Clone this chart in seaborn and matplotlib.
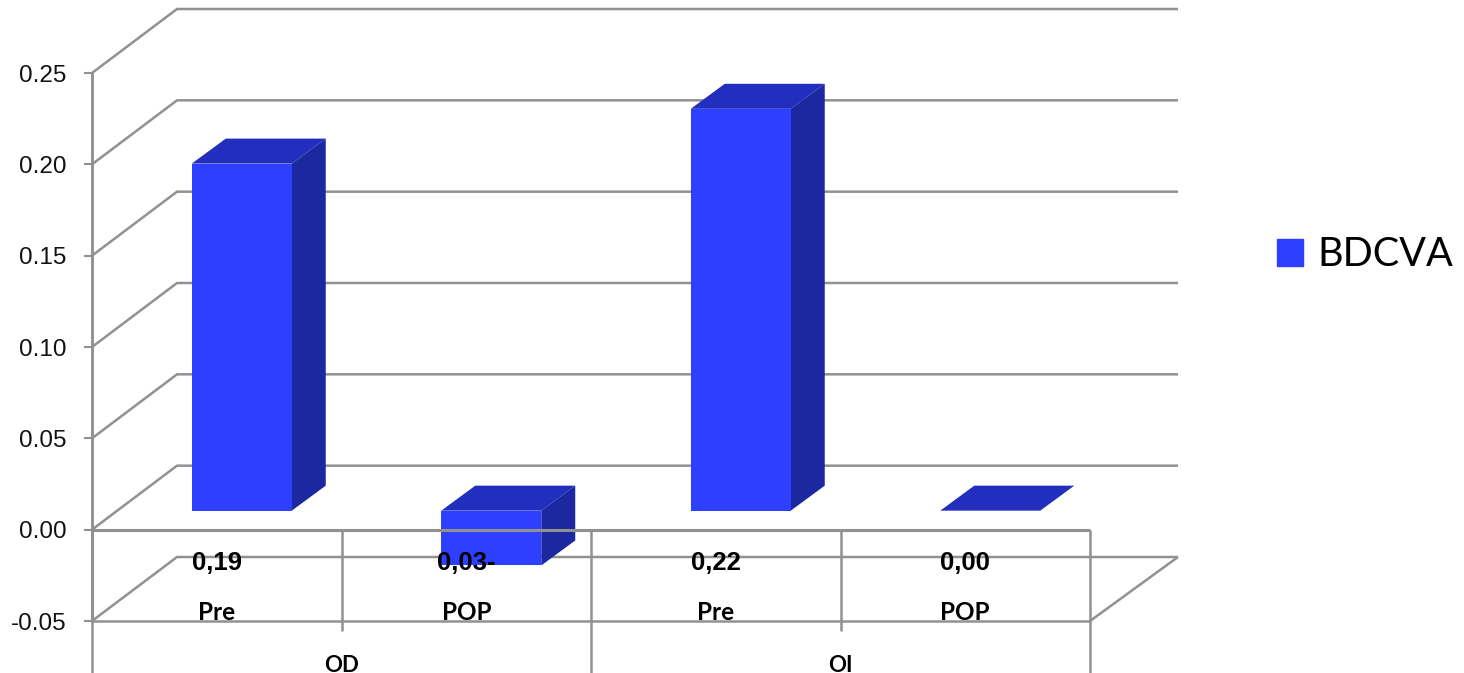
import matplotlib
matplotlib.use("Agg")
import matplotlib.pyplot as plt
import pandas as pd
import seaborn as sns
from matplotlib.transforms import ScaledTranslation

# Chart values
groups = ["OD", "OD", "OI", "OI"]
stages = ["Pre", "POP", "Pre", "POP"]
bdcva = [0.19, -0.03, 0.22, 0.00]
y_ticks = [-0.05, 0.00, 0.05, 0.10, 0.15, 0.20, 0.25]
series_name = "BDCVA"

# Palette
FRONT = "#2E40FF"
SIDE = "#1C28A0"
TOP = "#222EBE"
GRID = "#919191"

W, H = 1464, 673
DPI = 100

# Plot frame in pixels and the resulting scale factors
X0, X1 = 92, 1090
Y_TOP, Y_BOT = 73, 621
PX_X = (X1 - X0) / 4.0
PX_Y = (Y_BOT - Y_TOP) / 0.30

sns.set_theme(style="white")
plt.rcParams["font.family"] = ["Liberation Sans", "DejaVu Sans"]

fig = plt.figure(figsize=(W / DPI, H / DPI), dpi=DPI, facecolor="white")
ax = fig.add_axes([X0 / W, (H - Y_BOT) / H, (X1 - X0) / W, (Y_BOT - Y_TOP) / H])

frame = pd.DataFrame({"slot": [f"{g}-{s}" for g, s in zip(groups, stages)], "value": bdcva})
sns.barplot(data=frame, x="slot", y="value", color=FRONT, saturation=1, width=100 / PX_X,
            ax=ax, zorder=5, linewidth=0, edgecolor="none")
ax.set_xlim(-0.5, 3.5)
ax.set_ylim(-0.05, 0.25)
ax.set_xlabel("")
ax.set_ylabel("")
ax.set_xticks([])
ax.patch.set_alpha(0)


def dx(px):
    return px / PX_X


def dy(px):
    return px / PX_Y


def from_top(py):
    """Value on the y scale for a pixel row counted from the top of the figure."""
    return 0.25 - (py - Y_TOP) / PX_Y


# Depth of the box walls and of the bars inside it
WALL_DX_L, WALL_DX_R, WALL_DY = 85, 88, 64
BAR_DX, BAR_DY = 25, 19
BAR_DEPTH_X, BAR_DEPTH_Y = 34, 25

line_style = dict(color=GRID, lw=1.8, clip_on=False, solid_capstyle="butt", solid_joinstyle="miter")

# Back wall and floor gridlines
for t in y_ticks:
    ax.plot([-0.5, -0.5 + dx(WALL_DX_L), 3.5 + dx(WALL_DX_R)],
            [t, t + dy(WALL_DY), t + dy(WALL_DY)], zorder=1, **line_style)
ax.plot([3.5, 3.5 + dx(WALL_DX_R)], [-0.05, -0.05 + dy(WALL_DY)], zorder=1, **line_style)

# Front edges of the box
ax.plot([-0.5, 3.5], [0, 0], zorder=6, **{**line_style, "lw": 2.2})
ax.plot([-0.5, 3.5], [-0.05, -0.05], zorder=2, **line_style)

# Category separators below the zero line
bottom_edge = from_top(H + 2)
for x in [-0.5, 1.5, 3.5]:
    ax.plot([x, x], [0, bottom_edge], zorder=2, **line_style)
for x in [0.5, 2.5]:
    ax.plot([x, x], [0, from_top(631)], zorder=2, **line_style)

# Bar faces: move the fronts into the box and add top and side panels
shift = ScaledTranslation(BAR_DX / DPI, BAR_DY / DPI, fig.dpi_scale_trans)
half = dx(50)
for i, (bar, v) in enumerate(zip(ax.patches, bdcva)):
    bar.set_transform(ax.transData + shift)
    bar.set_clip_on(False)
    left = i - half + dx(BAR_DX)
    right = i + half + dx(BAR_DX)
    top = max(v, 0) + dy(BAR_DY)
    low = min(v, 0) + dy(BAR_DY)
    ax.fill([left, right, right + dx(BAR_DEPTH_X), left + dx(BAR_DEPTH_X)],
            [top, top, top + dy(BAR_DEPTH_Y), top + dy(BAR_DEPTH_Y)],
            color=TOP, lw=0, clip_on=False, zorder=4)
    if v != 0:
        ax.fill([right, right + dx(BAR_DEPTH_X), right + dx(BAR_DEPTH_X), right],
                [low, low + dy(BAR_DEPTH_Y), top + dy(BAR_DEPTH_Y), top],
                color=SIDE, lw=0, clip_on=False, zorder=4)

# Value axis
ax.set_yticks(y_ticks)
ax.set_yticklabels([f"{t:.2f}" for t in y_ticks], fontsize=17.5, color="#111111")
ax.tick_params(axis="y", left=True, length=5.5, width=1.5, color=GRID, pad=13)
for name in ["top", "right", "bottom"]:
    ax.spines[name].set_visible(False)
ax.spines["left"].set_color(GRID)
ax.spines["left"].set_linewidth(1.8)
ax.spines["left"].set_zorder(2)
ax.plot([-0.5, -0.5], [-0.05, 0.25], zorder=2, **line_style)

# Data table rows under the plot
for i, (s, v) in enumerate(zip(stages, bdcva)):
    value_text = f"{abs(v):.2f}".replace(".", ",") + ("-" if v < 0 else "")
    ax.text(i, from_top(563), value_text, ha="center", va="center", fontsize=18.5,
            fontweight="bold", color="black", zorder=8, clip_on=False)
    ax.text(i, from_top(612), s, ha="center", va="center", fontsize=17.5, family="Lato",
            fontweight="bold", color="black", zorder=8, clip_on=False)
for centre, g in zip([0.5, 2.5], ["OD", "OI"]):
    ax.text(centre, from_top(665), g, ha="center", va="center", fontsize=16, family="Lato",
            fontweight="bold", color="black", zorder=8, clip_on=False)

# Legend
swatch = plt.Rectangle((0, 0), 1, 1, color=FRONT)
fig.legend([swatch], [series_name], loc="center left", bbox_to_anchor=(1277 / W, 1 - 255 / H),
           frameon=False, handlelength=0.66, handleheight=0.66, handletextpad=0.35,
           borderpad=0, borderaxespad=0, labelcolor="black",
           prop={"family": "Lato", "size": 28.5})

fig.savefig("out.png", dpi=DPI)
